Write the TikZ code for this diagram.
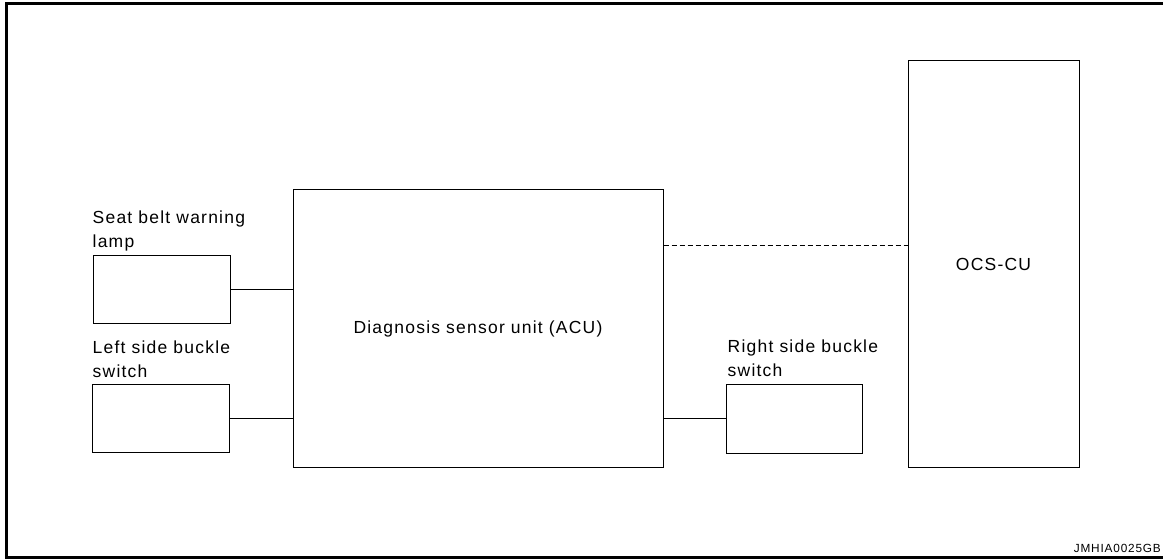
\documentclass[tikz,border=0pt]{standalone}
\usepackage{fontspec}
\setmainfont{Liberation Sans}[LetterSpace=7]
\usetikzlibrary{positioning}

\tikzset{
  unit/.style={draw, line width=1pt, inner sep=0pt, font=\fontsize{17.5}{24}\selectfont},
  lbl/.style={align=left, inner sep=0pt, anchor=south west, font=\fontsize{17.5}{24}\selectfont},
  wire/.style={line width=1pt},
}

\begin{document}
\begin{tikzpicture}[x=1pt, y=-1pt]
	\useasboundingbox (0,0) rectangle (1163,559);
	\begin{scope}
		\clip (0,0) rectangle (1163,559);
		\draw[line width=3pt] (6,4) rectangle (1200,557);
	\end{scope}
	% units
	\node[unit, minimum width=137pt, minimum height=68pt](lamp) at (161.5,289){};
	\node[unit, minimum width=137pt, minimum height=68pt](lbuckle) at (160.5,418){};
	\node[unit, minimum width=370pt, minimum height=277pt](acu) at (478,328.5){Diagnosis sensor unit (ACU)};
	\node[unit, minimum width=136pt, minimum height=69pt](rbuckle) at (794,418.5){};
	\node[unit, minimum width=171pt, minimum height=406pt](ocs) at (993.5,264){OCS-CU};
	% labels
	\node[lbl](lampL) at ([yshift=3.5pt]lamp.north west){Seat belt warning\\lamp};
	\node[lbl](lbuckleL) at ([xshift=1pt, yshift=6pt]lbuckle.north west){Left side buckle\\switch};
	\node[lbl](rbuckleL) at ([xshift=2pt, yshift=7pt]rbuckle.north west){Right side buckle\\switch};
	\node[anchor=base east, inner sep=0pt, font=\fontsize{11.8}{14}\selectfont](code) at (1161,552){JMHIA0025GB};
	% wiring
	\coordinate(bus) at (acu.east |- 0,245);
	\draw[wire](lamp) -- (lamp -| acu.west);
	\draw[wire](lbuckle) -- (lbuckle -| acu.west);
	\draw[wire](rbuckle) -- (rbuckle -| acu.east);
	\draw[wire, dash pattern=on 5pt off 3pt](bus) -- (bus -| ocs.west);
\end{tikzpicture}
\end{document}
